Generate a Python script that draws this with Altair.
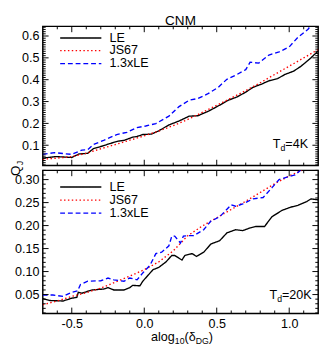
import altair as alt
import pandas as pd

FONT = "Liberation Sans"
SERIES = ["LE", "JS67", "1.3xLE"]
COLORS = ["#000000", "#ff0000", "#0000ff"]
DASHES = [[1, 0], [1.5, 2.5], [5, 3]]

X_DOMAIN = [-0.7, 1.2]
X_MAJOR = [-0.5, 0.0, 0.5, 1.0]
X_MINOR = [-0.6, -0.4, -0.3, -0.2, -0.1, 0.1, 0.2, 0.3, 0.4, 0.6, 0.7, 0.8, 0.9, 1.1]
TOP_Y_MAJOR = [0.1, 0.2, 0.3, 0.4, 0.5, 0.6]
TOP_Y_MINOR = [round(i * 0.01, 2) for i in range(1, 65) if i % 10]
BOT_Y_MAJOR = [0.05, 0.10, 0.15, 0.20, 0.25, 0.30]
BOT_Y_MINOR = [round(i * 0.01, 2) for i in range(1, 33) if i % 5]

# ---- top panel (T_d = 4K) ----
top_le_x = [-0.70, -0.61, -0.50, -0.45, -0.39, -0.35, -0.29, -0.24, -0.18, -0.14, -0.08, -0.05, -0.01, 0.05,
            0.10, 0.17, 0.24, 0.31, 0.37, 0.44, 0.48, 0.53, 0.58, 0.64, 0.70, 0.75, 0.81, 0.86, 0.92, 0.97,
            1.03, 1.08, 1.14, 1.20]
top_le_y = [0.041, 0.048, 0.044, 0.060, 0.063, 0.085, 0.096, 0.107, 0.119, 0.122, 0.137, 0.140, 0.149, 0.151,
            0.166, 0.193, 0.211, 0.233, 0.235, 0.255, 0.269, 0.287, 0.306, 0.321, 0.343, 0.365, 0.380, 0.395,
            0.405, 0.424, 0.439, 0.461, 0.494, 0.532]
top_js_x = [-0.7, -0.6, -0.5, -0.4, -0.3, -0.2, -0.1, 0.0, 0.1, 0.2, 0.3, 0.4, 0.5, 0.6, 0.7, 0.8, 0.9, 1.0, 1.1, 1.2]
top_js_y = [0.036, 0.041, 0.048, 0.063, 0.084, 0.103, 0.123, 0.143, 0.165, 0.190, 0.218, 0.250, 0.283, 0.316,
            0.350, 0.386, 0.424, 0.462, 0.500, 0.538]
top_b_x = [-0.70, -0.62, -0.50, -0.43, -0.39, -0.35, -0.28, -0.19, -0.12, -0.05, 0.01, 0.08, 0.17, 0.24, 0.31,
           0.37, 0.44, 0.51, 0.57, 0.64, 0.70, 0.73, 0.79, 0.86, 0.93, 1.00, 1.06, 1.13, 1.17, 1.20]
top_b_y = [0.058, 0.066, 0.058, 0.078, 0.080, 0.104, 0.122, 0.149, 0.159, 0.181, 0.188, 0.199, 0.233, 0.277,
           0.306, 0.314, 0.336, 0.365, 0.402, 0.424, 0.446, 0.480, 0.476, 0.513, 0.527, 0.550, 0.594, 0.631,
           0.667, 0.680]

# ---- bottom panel (T_d = 20K) ----
bot_le_x = [-0.70, -0.65, -0.56, -0.50, -0.465, -0.455, -0.43, -0.36, -0.28, -0.25, -0.21, -0.14, -0.10, -0.08,
            -0.03, -0.01, 0.06, 0.10, 0.15, 0.19, 0.21, 0.26, 0.28, 0.33, 0.36, 0.41, 0.46, 0.52, 0.57, 0.63,
            0.68, 0.73, 0.77, 0.83, 0.88, 0.95, 1.01, 1.06, 1.12, 1.15, 1.20]
bot_le_y = [0.041, 0.037, 0.036, 0.042, 0.044, 0.055, 0.053, 0.060, 0.062, 0.065, 0.060, 0.060, 0.065, 0.070,
            0.069, 0.079, 0.104, 0.109, 0.121, 0.135, 0.135, 0.125, 0.135, 0.139, 0.133, 0.142, 0.160, 0.167,
            0.184, 0.191, 0.189, 0.195, 0.198, 0.198, 0.219, 0.233, 0.240, 0.244, 0.252, 0.258, 0.256]
bot_js_x = [-0.7, -0.6, -0.5, -0.4, -0.3, -0.2, -0.1, 0.0, 0.1, 0.2, 0.3, 0.4, 0.5, 0.6, 0.7, 0.8, 0.9, 1.0, 1.1, 1.2]
bot_js_y = [0.028, 0.036, 0.046, 0.054, 0.064, 0.077, 0.090, 0.104, 0.121, 0.145, 0.178, 0.199, 0.217, 0.235,
            0.253, 0.272, 0.291, 0.308, 0.322, 0.336]
bot_b_x = [-0.70, -0.63, -0.56, -0.50, -0.46, -0.44, -0.39, -0.30, -0.25, -0.21, -0.14, -0.10, -0.05, -0.01,
           0.04, 0.08, 0.12, 0.17, 0.19, 0.21, 0.25, 0.27, 0.30, 0.34, 0.41, 0.46, 0.52, 0.60, 0.63, 0.68,
           0.75, 0.82, 0.88, 0.93, 1.00, 1.04, 1.08, 1.12, 1.20]
bot_b_y = [0.049, 0.049, 0.046, 0.055, 0.058, 0.072, 0.079, 0.080, 0.086, 0.082, 0.079, 0.086, 0.082, 0.097,
           0.114, 0.139, 0.142, 0.156, 0.177, 0.177, 0.162, 0.177, 0.178, 0.178, 0.191, 0.210, 0.219, 0.245,
           0.242, 0.247, 0.258, 0.261, 0.282, 0.300, 0.307, 0.310, 0.321, 0.330, 0.335]

W = 285
TOP_H = 144
BOT_H = 148
TOP_Y_DOMAIN = [0.007, 0.644]
BOT_Y_DOMAIN = [0.009, 0.32]


def text(txt, x, y, size=13, angle=0, align="left", baseline="alphabetic"):
    kw = dict(text=txt, align=align, baseline=baseline, fontSize=size, font=FONT, color="black")
    if angle:
        kw["angle"] = angle
    return alt.Chart(pd.DataFrame({"t": [0]})).mark_text(**kw).encode(x=alt.value(x), y=alt.value(y))


def legend_line(i, y):
    return alt.Chart(pd.DataFrame({"t": [0]})).mark_rule(
        color=COLORS[i], strokeDash=DASHES[i], strokeWidth=1.4
    ).encode(x=alt.value(18), x2=alt.value(60.6), y=alt.value(y))


def panel(series, H, ydom, ymajor, yminor, yfmt, show_x, legend_rows, extras):
    xs = alt.Scale(domain=X_DOMAIN, nice=False, zero=False)
    ys = alt.Scale(domain=ydom, nice=False, zero=False)
    rows = []
    for name, xv, yv in series:
        for a, b in zip(xv, yv):
            rows.append({"x": a, "y": b, "series": name})
    df = pd.DataFrame(rows)
    if show_x:
        xaxis = alt.Axis(values=X_MAJOR,
                         labelExpr="(datum.value < 0 ? '-' : '') + format(abs(datum.value), '.1f')",
                         ticks=False, domain=False, grid=False, labelPadding=5, labelFontSize=13,
                         labelFont=FONT, labelColor="black", labelFlush=False, title=None)
    else:
        xaxis = None
    yaxis = alt.Axis(values=ymajor, format=yfmt, ticks=False, domain=False, grid=False, labelPadding=4,
                     labelFontSize=13, labelFont=FONT, labelColor="black", labelFlush=False, title=None)
    lines = alt.Chart(df).mark_line(clip=True, strokeWidth=1.4).encode(
        x=alt.X("x:Q", scale=xs, axis=xaxis),
        y=alt.Y("y:Q", scale=ys, axis=yaxis),
        color=alt.Color("series:N", scale=alt.Scale(domain=SERIES, range=COLORS), legend=None),
        strokeDash=alt.StrokeDash("series:N", scale=alt.Scale(domain=SERIES, range=DASHES), legend=None),
    )
    layers = [lines]

    def xticks(vals, length, top):
        y0 = 0 if top else H
        y1 = length if top else H - length
        return alt.Chart(pd.DataFrame({"x": vals})).mark_rule(color="black", strokeWidth=1).encode(
            x=alt.X("x:Q", scale=xs, axis=xaxis), y=alt.value(y0), y2=alt.value(y1))

    def yticks(vals, length, right):
        x0 = W if right else 0
        x1 = W - length if right else length
        return alt.Chart(pd.DataFrame({"y": vals})).mark_rule(color="black", strokeWidth=1).encode(
            y=alt.Y("y:Q", scale=ys, axis=yaxis), x=alt.value(x0), x2=alt.value(x1))

    for top in (True, False):
        layers.append(xticks(X_MAJOR, 6, top))
        layers.append(xticks(X_MINOR, 3, top))
    for right in (False, True):
        layers.append(yticks(ymajor, 6, right))
        layers.append(yticks(yminor, 3, right))
    for i, ry in enumerate(legend_rows):
        layers.append(legend_line(i, ry))
        layers.append(text(SERIES[i], 69, ry, 13, baseline="middle"))
    layers.extend(extras)
    return alt.layer(*layers).properties(width=W, height=H)


top_extras = [
    text("CNM", W / 2, -1, 14, align="center"),
    text("T", 238, 125.7, 13),
    text("d", 246, 128.7, 9),
    text("=4K", 251, 125.7, 13),
    text("Q", -23.7, 154.7, 14, angle=270),
    text("J", -20.7, 143.8, 9, angle=270),
]
bot_extras = [
    text("T", 234.6, 133.2, 13),
    text("d", 242.5, 136.2, 9),
    text("=20K", 247.5, 133.2, 13),
    text("alog", 112, 177, 13),
    text("10", 136.6, 180, 9),
    text("(δ", 146.6, 177, 13),
    text("DG", 158.2, 180, 9),
    text(")", 171.7, 177, 13),
]

top = panel([("LE", top_le_x, top_le_y), ("JS67", top_js_x, top_js_y), ("1.3xLE", top_b_x, top_b_y)],
            TOP_H, TOP_Y_DOMAIN, TOP_Y_MAJOR, TOP_Y_MINOR, ".1f", False, [12, 25, 38.5], top_extras)
bottom = panel([("LE", bot_le_x, bot_le_y), ("JS67", bot_js_x, bot_js_y), ("1.3xLE", bot_b_x, bot_b_y)],
               BOT_H, BOT_Y_DOMAIN, BOT_Y_MAJOR, BOT_Y_MINOR, ".2f", True, [17.2, 30.7, 44.2], bot_extras)

chart = alt.vconcat(top, bottom, spacing=5, bounds="flush").properties(
    padding={"left": 0, "top": 0, "right": 4, "bottom": 2}, background="white"
).configure_view(stroke="black", strokeWidth=1.5)

chart.save("out.html", embed_options={"renderer": "svg", "actions": False})
